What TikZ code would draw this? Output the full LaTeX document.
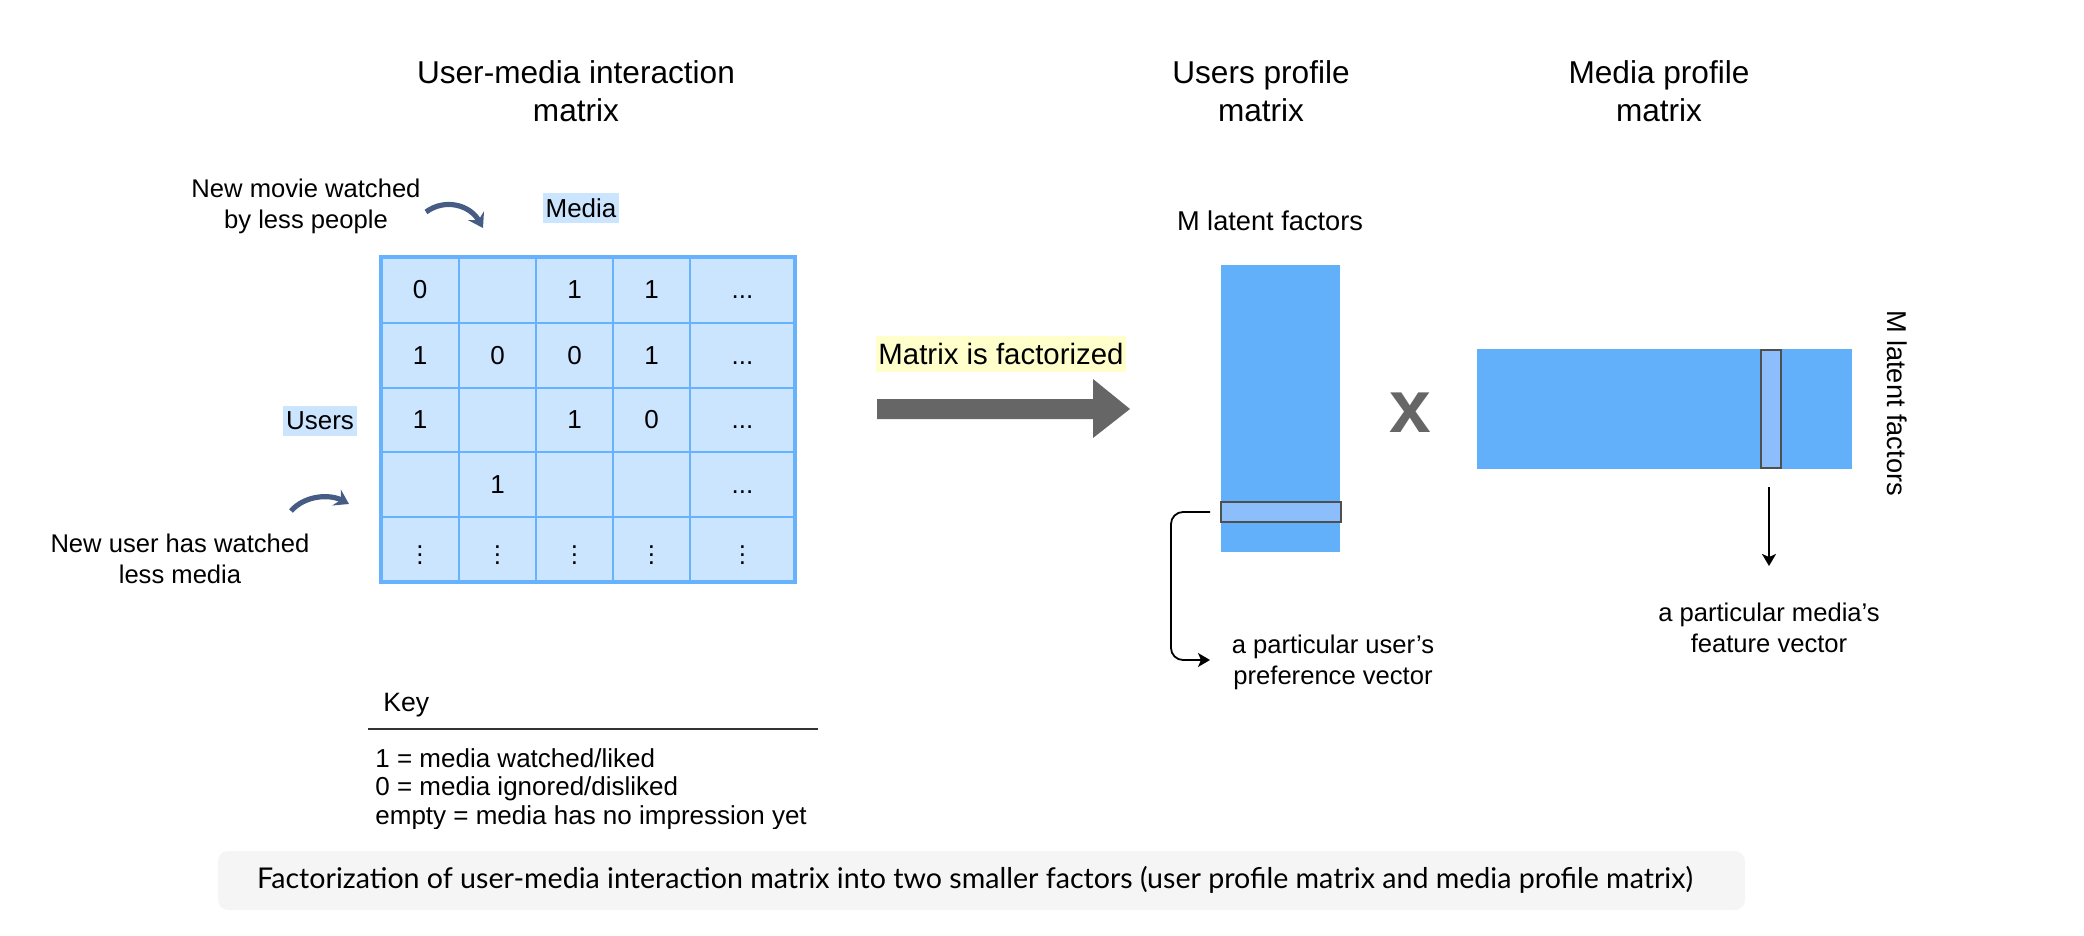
\documentclass[tikz,border=0pt]{standalone}
\usepackage{fontspec}
\setmainfont{Liberation Sans}
\newfontfamily\capfont{Lato}
\usetikzlibrary{arrows.meta,calc}
\definecolor{cellfill}{HTML}{CCE5FF}
\definecolor{cellline}{HTML}{66B2FF}
\definecolor{factblue}{HTML}{62B0FA}
\definecolor{hlblue}{HTML}{8DBEFC}
\definecolor{hlborder}{HTML}{4F4F4F}
\definecolor{arrowgray}{HTML}{666666}
\definecolor{curvecol}{HTML}{465C84}
\definecolor{yellowbg}{HTML}{FFFFCC}
\definecolor{capbg}{HTML}{F5F5F5}
\definecolor{keyline}{HTML}{333333}
\newcommand\hdotsx{\vphantom{0}...}
\begin{document}
\begin{tikzpicture}[x=0.5pt,y=-0.5pt,
  ttl/.style={font=\fontsize{15.8}{19}\selectfont, align=center, inner sep=0pt},
  txt/.style={font=\fontsize{12.8}{15.5}\selectfont, align=center, inner sep=0pt},
  keytxt/.style={font=\fontsize{13}{15}\selectfont, anchor=west, inner sep=0pt},
  cell/.style={font=\fontsize{13}{15}\selectfont, inner sep=0pt},
  hllabel/.style={font=\fontsize{13}{15}\selectfont, fill=cellfill, inner xsep=1.5pt, inner ysep=0pt, minimum height=15pt},
  factor/.style={fill=factblue, draw=none, inner sep=0pt},
  hlvec/.style={fill=hlblue, draw=hlborder, line width=1pt, inner sep=0pt},
  curvearrow/.style={draw=curvecol, line width=2.6pt, -{Stealth[length=7pt,width=9pt,inset=2.5pt]}},
  thinarrow/.style={draw=black, line width=0.9pt, -{Stealth[length=6pt,width=7pt,inset=1.5pt]}},
]
\useasboundingbox (0,0) rectangle (2084,936);

% titles
\node[ttl] (t1) at (576,91) {User-media interaction\\matrix};
\node[ttl] (t2) at (1261,91) {Users profile\\matrix};
\node[ttl] (t3) at (1659,91) {Media profile\\matrix};

% annotations
\node[txt] (ann1) at (306,206) {New movie watched\\by less people};
\node[txt] (ann2) at (180,559) {New user has watched\\less media};
\coordinate (ca1s) at (426,212);
\coordinate (ca1e) at (483,228);
\draw[curvearrow] (ca1s) .. controls (445,198) and (470,205) .. (ca1e);
\coordinate (ca2s) at (291,511);
\coordinate (ca2e) at (349,504);
\draw[curvearrow] (ca2s) .. controls (305,495) and (330,494) .. (ca2e);

\node[hllabel] (media) at (581,208) {Media};
\node[hllabel] (users) at (320,421) {Users};

% interaction matrix
\fill[cellfill] (381,257) rectangle (795,582);
\foreach \x in {459,536,613,690} \draw[cellline, line width=1pt] (\x,257) -- (\x,582);
\foreach \y in {323,388,452,517} \draw[cellline, line width=1pt] (381,\y) -- (795,\y);
\draw[cellline, line width=1.6pt] (381,257) rectangle (795,582);

% row 1
\node[cell] (c11) at (420,290) {0};
\node[cell] (c13) at (574.5,290) {1};
\node[cell] (c14) at (651.5,290) {1};
\node[cell] (c15) at (742.5,290) {\hdotsx};
% row 2
\node[cell] (c21) at (420,355.5) {1};
\node[cell] (c22) at (497.5,355.5) {0};
\node[cell] (c23) at (574.5,355.5) {0};
\node[cell] (c24) at (651.5,355.5) {1};
\node[cell] (c25) at (742.5,355.5) {\hdotsx};
% row 3
\node[cell] (c31) at (420,420) {1};
\node[cell] (c33) at (574.5,420) {1};
\node[cell] (c34) at (651.5,420) {0};
\node[cell] (c35) at (742.5,420) {\hdotsx};
% row 4
\node[cell] (c42) at (497.5,484.5) {1};
\node[cell] (c45) at (742.5,484.5) {\hdotsx};
% row 5
\node[cell] (c51) at (420,549.5) {\vdots};
\node[cell] (c52) at (497.5,549.5) {\vdots};
\node[cell] (c53) at (574.5,549.5) {\vdots};
\node[cell] (c54) at (651.5,549.5) {\vdots};
\node[cell] (c55) at (742.5,549.5) {\vdots};

% factorization arrow
\fill[arrowgray] (877,399) -- (1093,399) -- (1093,379) -- (1130,409) -- (1093,438) -- (1093,419) -- (877,419) -- cycle;
\node[font=\fontsize{14.7}{17}\selectfont, fill=yellowbg, inner xsep=1pt, inner ysep=0pt, minimum height=18pt] (fact) at (1001,354) {Matrix is factorized};

% users profile matrix
\node[ttl, font=\fontsize{13.6}{16}\selectfont] (ulat) at (1270,221) {M latent factors};
\node[factor, minimum width=59.5pt, minimum height=143.5pt] (U) at (1280.5,408.5) {};
\node[hlvec, minimum width=60pt, minimum height=10pt] (uvec) at (1281,512) {};

\node[font=\fontsize{37.5}{40}\bfseries\selectfont, text=arrowgray, inner sep=0pt] (times) at (1410,413) {x};

% media profile matrix
\node[factor, minimum width=187.5pt, minimum height=60pt] (V) at (1664.5,409) {};
\node[hlvec, minimum width=10pt, minimum height=59pt] (vvec) at (1771,409) {};
\node[font=\fontsize{13.6}{16}\selectfont, inner sep=0pt, rotate=-90] (mlat) at (1897,403) {M latent factors};

% vector labels and connectors
\node[txt] (ulab) at (1333,662) {a particular user's\\preference vector};
\node[txt] (vlab) at (1769,628) {a particular media's\\feature vector};
\coordinate (ustart) at (1210,512);
\coordinate (uend) at (1210,660);
\draw[thinarrow, rounded corners=6pt] (ustart) -- (1171,512) -- (1171,660) -- (uend);
\coordinate (vstart) at (1769,487);
\coordinate (vend) at (1769,566);
\draw[thinarrow] (vstart) -- (vend);

% key
\node[keytxt, font=\fontsize{13.3}{16}\selectfont] (key) at (383,705) {Key};
\coordinate (kl1) at (368,729);
\coordinate (kl2) at (818,729);
\draw[keyline, line width=1.1pt] (kl1) -- (kl2);
\node[keytxt] (k1) at (375,758) {1 = media watched/liked};
\node[keytxt] (k2) at (375,789) {0 = media ignored/disliked};
\begin{scope}
\clip (360,795) rectangle (840,828);
\node[keytxt] (k3) at (375,818) {empty = media has no impression yet};
\end{scope}

% caption
\node[fill=capbg, rounded corners=5pt, minimum width=763.5pt, minimum height=29.5pt, inner sep=0pt] (capbox) at (981.5,880.5) {};
\node[font=\capfont\fontsize{14.3}{16}\selectfont, inner sep=0pt] (cap) at (975,880) {Factorization of user-media interaction matrix into two smaller factors (user profile matrix and media profile matrix)};
\end{tikzpicture}
\end{document}
